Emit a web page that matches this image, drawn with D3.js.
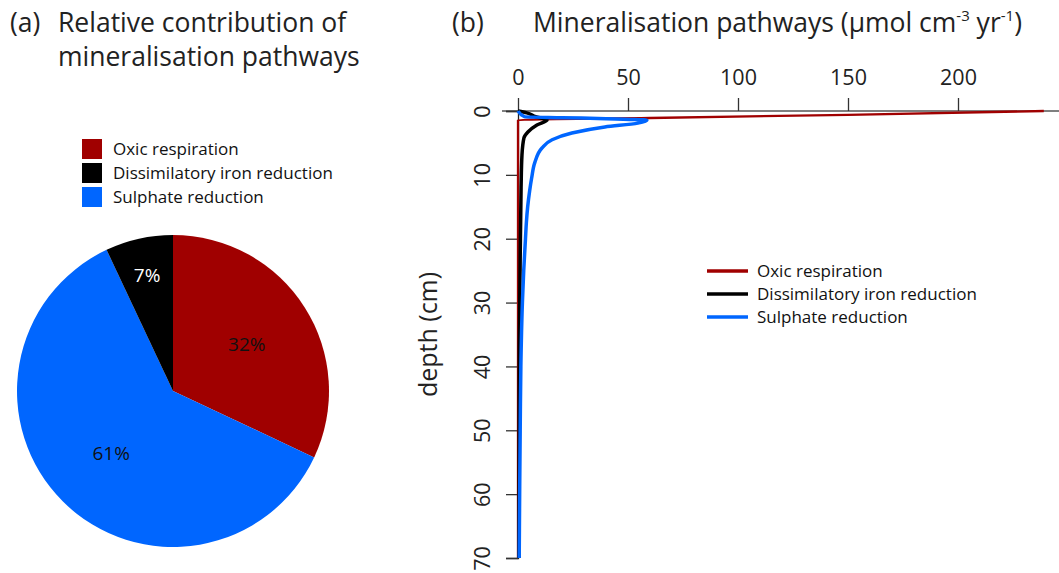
<!DOCTYPE html>
<html>
<head>
<meta charset="utf-8">
<script src="https://cdn.jsdelivr.net/npm/d3@7/dist/d3.min.js"></script>
<style>
  body { margin: 0; background: #fff; }
  svg { display: block; font-family: "Open Sans", "Noto Sans", sans-serif; }
</style>
</head>
<body>
<svg id="chart" width="1059" height="573"></svg>
<script>
// ---- Pathway names and colours ----
const pathways = ["Oxic respiration", "Dissimilatory iron reduction", "Sulphate reduction"];
const pathwayColors = ["#a00000", "#000000", "#0066ff"];

// ---- (a) relative contribution, percent ----
const sharePct = [32, 7, 61];
const sharePathway = [0, 1, 2];           // index into pathways
const shareOrder = [0, 2, 1];             // drawing order clockwise from 12 o'clock

// ---- (b) depth profiles: depth (cm) and rate (µmol cm-3 yr-1) ----
const oxicDepth = [0, 0.6, 1.1, 1.4, 70];
const oxicRate  = [239, 150, 60, 0, 0];

const ironDepth = [0, 0.3, 0.9, 1.4, 2.2, 3.3, 4.2, 6.9, 12, 20, 37, 70];
const ironRate  = [0, 4, 8, 13.2, 8.6, 4.5, 2.7, 1.8, 1.4, 1.1, 0.6, 0.45];

const sulfDepth = [0, 0.9, 1.05, 1.2, 1.45, 1.9, 2.5, 3.45, 4.5, 5.8, 8.0, 10.5, 12.5, 15, 17.5, 20, 25, 30, 40, 50, 60, 70];
const sulfRate  = [0, 3, 20, 40, 58.6, 54.5, 39.5, 24.5, 15.5, 10.9, 7.7, 6.2, 5.3, 4.4, 3.8, 3.4, 2.6, 2.0, 1.3, 1.0, 0.75, 0.55];

const xTicks = [0, 50, 100, 150, 200];
const yTicks = [0, 10, 20, 30, 40, 50, 60, 70];

const svg = d3.select("#chart");

// ================= Panel (a): pie =================
const pieG = svg.append("g");
pieG.append("text").attr("x", 10).attr("y", 32)
  .attr("font-size", 26.5).attr("fill", "#222").text("(a)");
pieG.append("text").attr("x", 58).attr("y", 32)
  .attr("font-size", 26.5).attr("fill", "#222").text("Relative contribution of");
pieG.append("text").attr("x", 58).attr("y", 66)
  .attr("font-size", 26.5).attr("fill", "#222").text("mineralisation pathways");

// legend
const pieLeg = pieG.append("g");
pathways.forEach((name, i) => {
  const cy = 149 + i * 24;
  pieLeg.append("rect").attr("x", 82).attr("y", cy - 10).attr("width", 20).attr("height", 20)
    .attr("fill", pathwayColors[i]);
  pieLeg.append("text").attr("x", 113).attr("y", cy + 6)
    .attr("font-size", 17).attr("fill", "#111").text(name);
});

const R = 156;
const pieCenter = [173, 391];
const slices = shareOrder.map(k => ({ pct: sharePct[k], path: sharePathway[k] }));
const pie = d3.pie().sort(null).value(d => d.pct).startAngle(0).endAngle(2 * Math.PI);
const arc = d3.arc().innerRadius(0).outerRadius(R);
const labelArcBig = d3.arc().innerRadius(R * 0.56).outerRadius(R * 0.56);
const labelArcSmall = d3.arc().innerRadius(R * 0.76).outerRadius(R * 0.76);

const pg = pieG.append("g").attr("transform", `translate(${pieCenter[0]},${pieCenter[1]})`);
const arcs = pie(slices);
pg.selectAll("path.slice").data(arcs).join("path")
  .attr("class", "slice")
  .attr("d", arc)
  .attr("fill", d => pathwayColors[d.data.path]);
pg.selectAll("text.lbl").data(arcs).join("text")
  .attr("class", "lbl")
  .attr("transform", d => {
    const c = (d.data.pct < 10 ? labelArcSmall : labelArcBig).centroid(d);
    return `translate(${c[0]},${c[1]})`;
  })
  .attr("text-anchor", "middle")
  .attr("dy", "0.36em")
  .attr("font-size", 19)
  .attr("fill", d => d.data.path === 1 ? "#fff" : "#111")
  .text(d => d.data.pct + "%");

// ================= Panel (b): depth profiles =================
const x = d3.scaleLinear().domain([0, 200]).range([518, 958]);
const y = d3.scaleLinear().domain([0, 70]).range([111, 558]);

svg.append("text").attr("x", 452).attr("y", 32).attr("font-size", 26.5).attr("fill", "#222").text("(b)");
const tb = svg.append("text").attr("x", 533).attr("y", 32).attr("font-size", 26.5).attr("fill", "#222");
tb.append("tspan").text("Mineralisation pathways (µmol cm");
tb.append("tspan").attr("font-size", 15).attr("dy", -11).text("-3");
tb.append("tspan").attr("dy", 11).text(" yr");
tb.append("tspan").attr("font-size", 15).attr("dy", -11).text("-1");
tb.append("tspan").attr("dy", 11).text(")");

// surface reference line
svg.append("line")
  .attr("x1", 502).attr("x2", 1059)
  .attr("y1", y(0)).attr("y2", y(0))
  .attr("stroke", "#555").attr("stroke-width", 1.5);

// x axis on top
const xAxis = svg.append("g").attr("transform", `translate(0,${y(0)})`)
  .call(d3.axisTop(x).tickValues(xTicks).tickSize(13).tickPadding(13));
xAxis.select(".domain").remove();
xAxis.selectAll(".tick line").attr("stroke", "#333").attr("stroke-width", 1.3);
xAxis.selectAll(".tick text").attr("font-size", 21.5).attr("fill", "#222")
  .attr("font-family", "'Open Sans', 'Noto Sans', sans-serif");

// y axis
const yAxis = svg.append("g").attr("transform", `translate(${x(0)},0)`)
  .call(d3.axisLeft(y).tickValues(yTicks).tickSize(12));
yAxis.select(".domain").attr("stroke", "#222").attr("stroke-width", 1.3);
yAxis.selectAll(".tick line").attr("stroke", "#333").attr("stroke-width", 1.3);
yAxis.selectAll(".tick text")
  .attr("x", null).attr("dy", null)
  .attr("transform", "translate(-28,0) rotate(-90)")
  .attr("text-anchor", "middle")
  .attr("font-size", 21.5).attr("fill", "#222")
  .attr("font-family", "'Open Sans', 'Noto Sans', sans-serif");

svg.append("text")
  .attr("transform", `translate(437,${y(35)}) rotate(-90)`)
  .attr("text-anchor", "middle")
  .attr("font-size", 25).attr("fill", "#222")
  .text("depth (cm)");

// profiles
const line = d3.line()
  .x(d => x(d[1]))
  .y(d => y(d[0]))
  .curve(d3.curveMonotoneY);

const profiles = [
  { depth: oxicDepth, rate: oxicRate, color: pathwayColors[0], w: 2.3 },
  { depth: ironDepth, rate: ironRate, color: pathwayColors[1], w: 3.5 },
  { depth: sulfDepth, rate: sulfRate, color: pathwayColors[2], w: 3.5 }
];
profiles.forEach(p => {
  svg.append("path")
    .datum(p.depth.map((d, i) => [d, p.rate[i]]))
    .attr("d", line)
    .attr("fill", "none")
    .attr("stroke", p.color)
    .attr("stroke-width", p.w)
    .attr("stroke-linejoin", "round");
});

// legend
pathways.forEach((name, i) => {
  const cy = 271 + i * 23;
  svg.append("line").attr("x1", 707).attr("x2", 748).attr("y1", cy).attr("y2", cy)
    .attr("stroke", pathwayColors[i]).attr("stroke-width", 3.5);
  svg.append("text").attr("x", 757).attr("y", cy + 6)
    .attr("font-size", 17).attr("fill", "#111").text(name);
});
</script>
</body>
</html>
